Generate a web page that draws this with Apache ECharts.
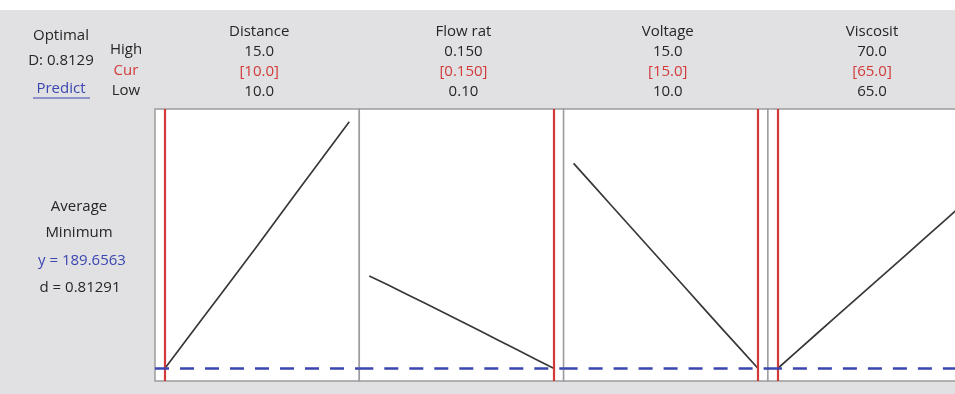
<!DOCTYPE html>
<html>
<head>
<meta charset="utf-8">
<script src="https://cdn.jsdelivr.net/npm/echarts@6/dist/echarts.min.js"></script>
<style>
  html, body { margin: 0; padding: 0; background: #ffffff; overflow: hidden; }
  #chart { width: 980px; height: 394px; }
</style>
</head>
<body>
<div id="chart"></div>
<script>
// Factor header rows
const factorNames = ['Distance', 'Flow rat', 'Voltage', 'Viscosit'];
const highLabels  = ['15.0', '0.150', '15.0', '70.0'];
const curLabels   = ['[10.0]', '[0.150]', '[15.0]', '[65.0]'];
const lowLabels   = ['10.0', '0.10', '10.0', '65.0'];

// Factor ranges and current settings
const lowValues  = [10, 0.10, 10, 65];
const highValues = [15, 0.15, 15, 70];
const curValues  = [10, 0.15, 15, 65];

// Predicted response traces per factor
const distanceX  = [10, 10.5, 11, 11.5, 12, 12.5, 13, 13.5, 14, 14.5, 15];
const distanceY  = [189.66, 199.6, 209.5, 219.3, 229.2, 239.1, 249.2, 259.3, 269.3, 279.3, 289.3];
const flowX      = [0.100, 0.105, 0.110, 0.115, 0.120, 0.125, 0.130, 0.135, 0.140, 0.145, 0.150];
const flowY      = [227.0, 223.4, 219.7, 216.0, 212.3, 208.6, 204.8, 201.0, 197.2, 193.4, 189.66];
const voltageX   = [10, 10.5, 11, 11.5, 12, 12.5, 13, 13.5, 14, 14.5, 15];
const voltageY   = [272.5, 264.2, 255.9, 247.6, 239.3, 231.0, 222.7, 214.4, 206.1, 197.9, 189.66];
const viscosityX = [65, 65.5, 66, 66.5, 67, 67.5, 68, 68.5, 69, 69.5, 70];
const viscosityY = [189.66, 196.3, 202.9, 209.5, 216.1, 222.7, 229.2, 235.8, 242.5, 249.1, 255.7];

// Summary of the optimisation
const optimalD = 'D: 0.8129';
const goalLines = ['Average', 'Minimum'];
const predicted = 189.6563;
const desirability = 0.81291;

const traceX = [distanceX, flowX, voltageX, viscosityX];
const traceY = [distanceY, flowY, voltageY, viscosityY];

const FONT = '"Open Sans", "Noto Sans", sans-serif';
const TEXT = '#262626';
const RED = '#d23a3a';
const BLUE = '#3b45b0';

const panelLeft0 = 155, panelWidth = 204.3, panelTop = 109, panelHeight = 272;
const padFrac = 10 / 184;

const grids = [], xAxes = [], yAxes = [], series = [];
for (let i = 0; i < 4; i++) {
  const span = highValues[i] - lowValues[i];
  grids.push({
    left: panelLeft0 + i * panelWidth, top: panelTop,
    width: panelWidth, height: panelHeight,
    outerBoundsMode: 'none',
    show: true, backgroundColor: '#ffffff',
    borderColor: '#9c9ca0', borderWidth: 1.5
  });
  xAxes.push({
    type: 'value', gridIndex: i,
    min: lowValues[i] - span * padFrac, max: highValues[i] + span * padFrac,
    axisLine: { show: false }, axisTick: { show: false },
    axisLabel: { show: false }, splitLine: { show: false }
  });
  yAxes.push({
    type: 'value', gridIndex: i, min: 184.5, max: 294.5,
    axisLine: { show: false }, axisTick: { show: false },
    axisLabel: { show: false }, splitLine: { show: false }
  });
  series.push({
    type: 'line', xAxisIndex: i, yAxisIndex: i,
    data: traceX[i].map((x, k) => [x, traceY[i][k]]),
    symbol: 'none', silent: true, z: 3,
    lineStyle: { color: '#383838', width: 1.7 },
    markLine: {
      silent: true, symbol: 'none', animation: false,
      label: { show: false },
      data: [
        { xAxis: curValues[i], lineStyle: { color: RED, width: 2.2, type: 'solid' } },
        { yAxis: predicted, lineStyle: { color: BLUE, width: 2.5, type: [14, 11] } }
      ]
    }
  });
}

function txt(x, y, s, fill, size) {
  return {
    type: 'text', x: x, y: y, silent: true,
    style: { text: s, fill: fill || TEXT, font: (size || 15) + 'px ' + FONT,
             textAlign: 'center', textVerticalAlign: 'middle' }
  };
}

const graphics = [
  // gray panel background below the white strip
  { type: 'rect', shape: { x: 0, y: 10, width: 980, height: 384 },
    style: { fill: '#e1e1e3' }, z: -10, silent: true },
  txt(61, 36, 'Optimal'),
  txt(61, 61, optimalD),
  txt(61, 89, 'Predict', BLUE),
  { type: 'line', shape: { x1: 33, y1: 98, x2: 90, y2: 98 },
    style: { stroke: BLUE, lineWidth: 1.2 }, silent: true },
  txt(126, 50, 'High'),
  txt(126, 71, 'Cur', RED),
  txt(126, 91, 'Low'),
  txt(79, 207, goalLines[0]),
  txt(79, 233, goalLines[1]),
  txt(82, 261, 'y = ' + predicted.toFixed(4), BLUE),
  txt(80, 288, 'd = ' + desirability.toFixed(5))
];
for (let i = 0; i < 4; i++) {
  const cx = panelLeft0 + i * panelWidth + panelWidth / 2 + 2;
  graphics.push(txt(cx, 32, factorNames[i]));
  graphics.push(txt(cx, 52, highLabels[i]));
  graphics.push(txt(cx, 72, curLabels[i], RED));
  graphics.push(txt(cx, 92, lowLabels[i]));
}

const chart = echarts.init(document.getElementById('chart'), null, { renderer: 'canvas' });
chart.setOption({
  animation: false,
  backgroundColor: '#ffffff',
  grid: grids,
  xAxis: xAxes,
  yAxis: yAxes,
  series: series,
  graphic: graphics
});
</script>
</body>
</html>
